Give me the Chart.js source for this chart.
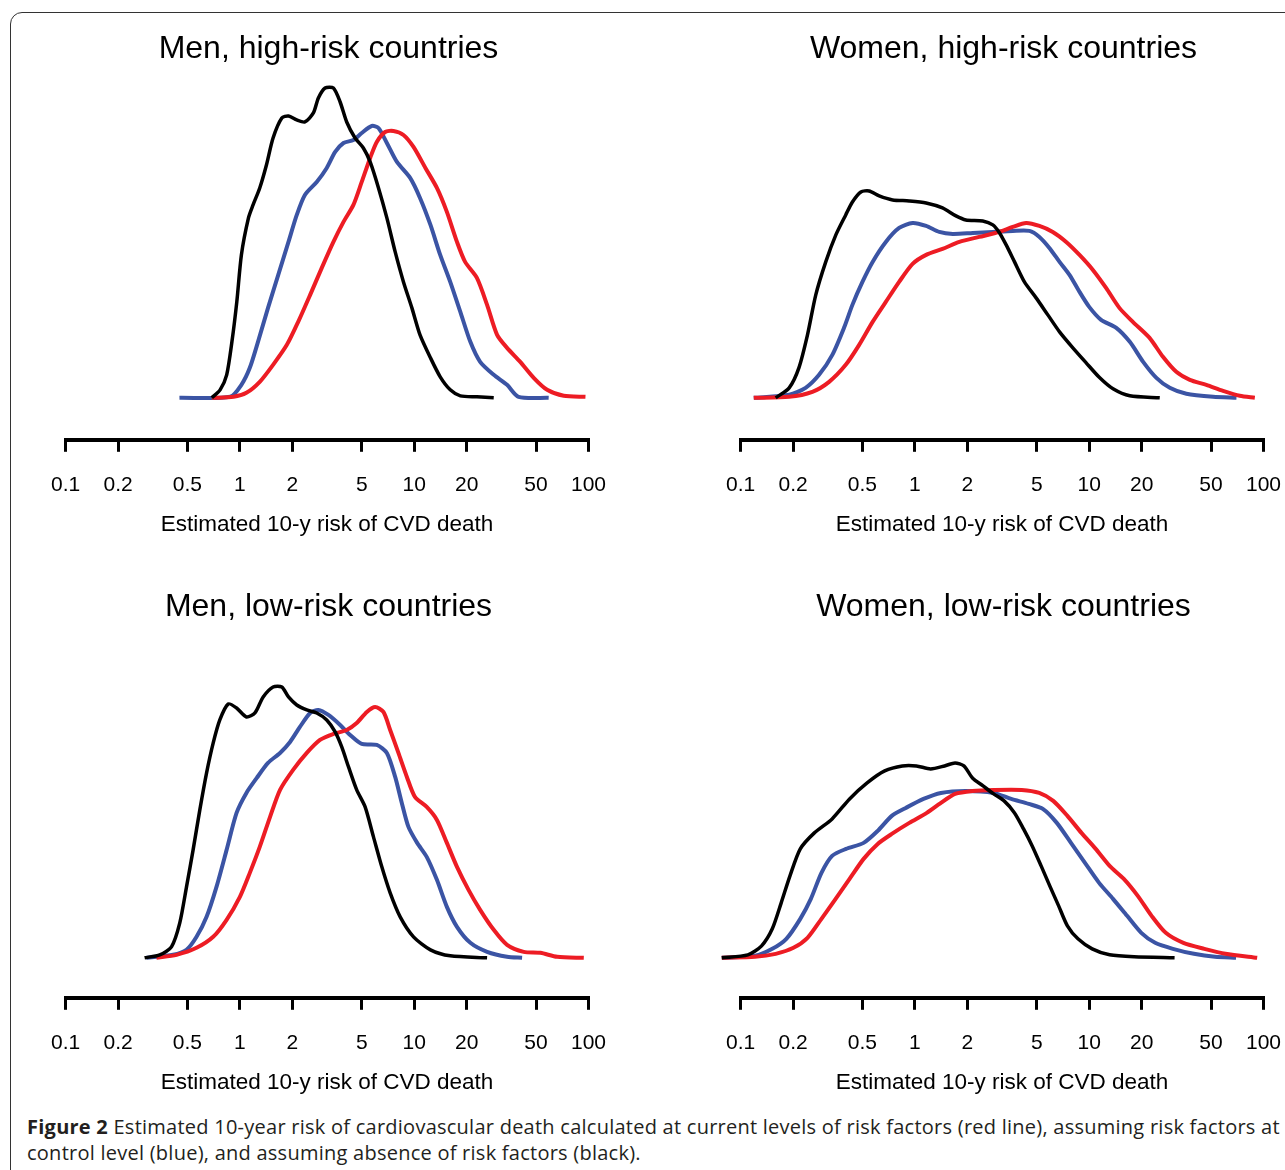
<!DOCTYPE html>
<html>
<head>
<meta charset="utf-8">
<script src="https://cdn.jsdelivr.net/npm/chart.js@4.4.1/dist/chart.umd.min.js"></script>
<style>
  html, body { margin: 0; padding: 0; background: #fff; overflow: hidden; }
  body { width: 1285px; height: 1170px; position: relative; }
  #frame {
    position: absolute; left: 10px; top: 12px; width: 1300px; height: 1200px;
    border: 1.5px solid #333; border-radius: 12px; box-sizing: border-box;
  }
  canvas { position: absolute; }
  #caption {
    position: absolute; left: 27px; top: 1114px;
    font-family: "Open Sans", sans-serif; font-size: 20px; letter-spacing: 0.25px; line-height: 26px;
    color: #231f20; white-space: nowrap;
  }
</style>
</head>
<body>
<div id="frame"></div>
<canvas id="menHigh" width="597" height="527" style="left:30px;top:15px"></canvas>
<canvas id="womenHigh" width="597" height="527" style="left:705px;top:15px"></canvas>
<canvas id="menLow" width="597" height="527" style="left:30px;top:573px"></canvas>
<canvas id="womenLow" width="597" height="527" style="left:705px;top:573px"></canvas>
<div id="caption"><b>Figure 2</b> Estimated 10-year risk of cardiovascular death calculated at current levels of risk factors (red line), assuming risk factors at<br>control level (blue), and assuming absence of risk factors (black).</div>

<script>
const riskTicks = [0.1, 0.2, 0.5, 1, 2, 5, 10, 20, 50, 100];
const axisTitle = "Estimated 10-y risk of CVD death";

// Men, high-risk countries
const menHighBlackX = [0.69, 0.77, 0.84, 0.90, 0.96, 1.02, 1.12, 1.19, 1.30, 1.42, 1.55, 1.74, 1.90, 2.12, 2.36, 2.64, 2.82, 3.08, 3.44, 3.76, 4.10, 4.58, 5.11, 5.59, 6.24, 6.97, 7.78, 8.68, 9.70, 10.8, 12.4, 14.1, 16.1, 18.4, 22.9, 28.6];
const menHighBlackY = [0, 0.08, 0.23, 0.56, 0.96, 1.43, 1.80, 1.93, 2.10, 2.33, 2.60, 2.80, 2.82, 2.78, 2.76, 2.85, 3.00, 3.10, 3.10, 2.96, 2.76, 2.60, 2.50, 2.36, 2.10, 1.80, 1.46, 1.16, 0.90, 0.63, 0.40, 0.21, 0.08, 0.02, 0.01, 0];
const menHighBlueX = [0.45, 0.88, 1.02, 1.14, 1.27, 1.45, 1.66, 1.90, 2.12, 2.36, 2.76, 3.15, 3.52, 3.93, 4.48, 5.00, 5.71, 6.24, 6.97, 7.96, 9.48, 10.8, 12.4, 14.1, 16.1, 18.4, 21.0, 23.9, 28.6, 34.1, 39.7, 59.1];
const menHighBlueY = [0, 0.01, 0.13, 0.30, 0.56, 0.90, 1.23, 1.56, 1.83, 2.03, 2.16, 2.30, 2.46, 2.55, 2.58, 2.65, 2.72, 2.70, 2.55, 2.36, 2.20, 2.00, 1.73, 1.43, 1.16, 0.86, 0.56, 0.36, 0.23, 0.13, 0.01, 0];
const menHighRedX = [0.69, 0.92, 1.09, 1.30, 1.55, 1.86, 2.16, 2.53, 2.95, 3.44, 3.93, 4.48, 5.00, 5.59, 6.10, 6.81, 7.60, 8.68, 9.91, 11.6, 13.5, 15.4, 17.6, 19.6, 22.9, 26.2, 29.9, 34.1, 40.6, 48.5, 57.9, 72.1, 96.1];
const menHighRedY = [0, 0.01, 0.05, 0.16, 0.33, 0.53, 0.76, 1.03, 1.30, 1.56, 1.76, 1.93, 2.16, 2.40, 2.56, 2.66, 2.67, 2.63, 2.51, 2.30, 2.10, 1.86, 1.56, 1.36, 1.20, 0.93, 0.63, 0.50, 0.36, 0.20, 0.08, 0.02, 0.01];

// Women, high-risk countries
const womenHighBlackX = [0.159, 0.190, 0.216, 0.242, 0.270, 0.308, 0.352, 0.401, 0.438, 0.490, 0.546, 0.624, 0.745, 0.927, 1.16, 1.44, 1.72, 1.96, 2.45, 2.80, 3.06, 3.34, 3.73, 4.25, 4.96, 5.79, 6.76, 8.06, 9.61, 11.5, 13.7, 17.1, 25.4];
const womenHighBlackY = [0, 0.10, 0.30, 0.63, 1.03, 1.36, 1.63, 1.83, 1.96, 2.06, 2.07, 2.02, 1.98, 1.97, 1.95, 1.90, 1.82, 1.78, 1.77, 1.73, 1.65, 1.53, 1.36, 1.16, 1.00, 0.83, 0.66, 0.50, 0.35, 0.20, 0.09, 0.02, 0];
const womenHighBlueX = [0.119, 0.190, 0.236, 0.282, 0.336, 0.392, 0.438, 0.500, 0.572, 0.681, 0.812, 0.970, 1.16, 1.38, 1.65, 2.15, 2.80, 3.64, 4.54, 5.18, 5.91, 6.76, 7.71, 8.80, 10.0, 11.7, 14.3, 17.1, 20.4, 24.3, 29.0, 36.1, 51.4, 70.0];
const womenHighBlueY = [0, 0.03, 0.10, 0.23, 0.43, 0.70, 0.93, 1.16, 1.36, 1.56, 1.70, 1.75, 1.72, 1.66, 1.64, 1.65, 1.66, 1.67, 1.67, 1.61, 1.50, 1.36, 1.23, 1.06, 0.91, 0.78, 0.70, 0.56, 0.36, 0.20, 0.10, 0.04, 0.01, 0];
const womenHighRedX = [0.119, 0.190, 0.258, 0.322, 0.401, 0.479, 0.572, 0.681, 0.812, 0.970, 1.16, 1.44, 1.80, 2.34, 3.06, 3.64, 4.35, 5.18, 6.18, 7.38, 8.80, 10.5, 12.5, 14.9, 17.8, 22.2, 26.5, 31.6, 37.8, 47.0, 58.6, 73.1, 89.2];
const womenHighRedY = [0, 0.01, 0.06, 0.16, 0.33, 0.53, 0.76, 0.96, 1.16, 1.34, 1.43, 1.49, 1.56, 1.61, 1.66, 1.71, 1.75, 1.72, 1.66, 1.56, 1.43, 1.28, 1.10, 0.90, 0.76, 0.60, 0.41, 0.26, 0.18, 0.13, 0.07, 0.02, 0];

// Men, low-risk countries
const menLowBlackX = [0.284, 0.347, 0.405, 0.452, 0.494, 0.539, 0.589, 0.644, 0.703, 0.767, 0.857, 0.957, 1.09, 1.22, 1.36, 1.55, 1.74, 1.90, 2.12, 2.42, 2.76, 3.15, 3.52, 3.84, 4.20, 4.68, 5.23, 5.84, 6.52, 7.28, 8.31, 9.91, 12.4, 16.1, 26.2];
const menLowBlackY = [0, 0.03, 0.11, 0.35, 0.71, 1.08, 1.48, 1.85, 2.15, 2.38, 2.54, 2.50, 2.41, 2.45, 2.61, 2.71, 2.71, 2.61, 2.53, 2.48, 2.45, 2.38, 2.26, 2.11, 1.91, 1.68, 1.51, 1.21, 0.91, 0.65, 0.41, 0.21, 0.08, 0.02, 0];
const menLowBlueX = [0.291, 0.414, 0.494, 0.564, 0.644, 0.734, 0.839, 0.957, 1.09, 1.25, 1.45, 1.70, 1.94, 2.21, 2.53, 2.82, 3.22, 3.76, 4.29, 5.00, 6.10, 6.97, 7.78, 8.49, 9.27, 10.4, 11.8, 13.5, 15.4, 17.6, 21.0, 26.2, 34.1, 41.6];
const menLowBlueY = [0, 0.03, 0.08, 0.21, 0.41, 0.71, 1.08, 1.45, 1.65, 1.80, 1.95, 2.05, 2.16, 2.31, 2.45, 2.48, 2.43, 2.33, 2.23, 2.14, 2.13, 2.05, 1.81, 1.55, 1.31, 1.15, 1.01, 0.78, 0.51, 0.31, 0.15, 0.06, 0.01, 0];
const menLowRedX = [0.332, 0.433, 0.564, 0.703, 0.839, 1.00, 1.14, 1.30, 1.49, 1.70, 2.02, 2.42, 2.88, 3.44, 4.10, 4.68, 5.35, 5.97, 6.66, 7.28, 8.12, 9.08, 10.1, 11.8, 13.5, 15.4, 17.6, 20.5, 23.9, 28.6, 34.1, 42.5, 53.0, 66.1, 94.0];
const menLowRedY = [0, 0.03, 0.10, 0.21, 0.38, 0.61, 0.85, 1.11, 1.41, 1.68, 1.88, 2.05, 2.18, 2.24, 2.28, 2.35, 2.46, 2.51, 2.46, 2.28, 2.05, 1.81, 1.61, 1.51, 1.38, 1.15, 0.91, 0.68, 0.48, 0.28, 0.13, 0.06, 0.05, 0.01, 0];

// Women, low-risk countries
const womenLowBlackX = [0.078, 0.110, 0.132, 0.152, 0.171, 0.192, 0.220, 0.265, 0.335, 0.422, 0.532, 0.671, 0.847, 1.02, 1.23, 1.48, 1.70, 1.91, 2.14, 2.46, 2.83, 3.25, 3.73, 4.20, 4.71, 5.30, 5.94, 6.68, 7.50, 8.62, 10.4, 13.1, 18.1, 30.9];
const womenLowBlackY = [0, 0.03, 0.12, 0.29, 0.55, 0.82, 1.09, 1.25, 1.39, 1.59, 1.75, 1.87, 1.92, 1.92, 1.89, 1.92, 1.95, 1.92, 1.80, 1.72, 1.64, 1.57, 1.45, 1.29, 1.12, 0.92, 0.72, 0.52, 0.32, 0.19, 0.09, 0.03, 0.01, 0];
const womenLowBlueX = [0.078, 0.121, 0.152, 0.183, 0.220, 0.253, 0.291, 0.335, 0.403, 0.508, 0.612, 0.737, 0.887, 1.12, 1.41, 1.95, 2.83, 3.57, 4.50, 5.42, 6.52, 7.86, 9.46, 11.4, 13.7, 16.5, 19.9, 23.9, 30.2, 39.9, 52.7, 69.6];
const womenLowBlueY = [0, 0.02, 0.09, 0.19, 0.39, 0.59, 0.85, 1.02, 1.09, 1.15, 1.27, 1.42, 1.50, 1.59, 1.65, 1.67, 1.65, 1.59, 1.54, 1.49, 1.35, 1.15, 0.95, 0.75, 0.59, 0.42, 0.25, 0.15, 0.09, 0.04, 0.01, 0];
const womenLowRedX = [0.078, 0.121, 0.159, 0.201, 0.242, 0.291, 0.351, 0.422, 0.508, 0.612, 0.737, 0.929, 1.17, 1.41, 1.70, 2.14, 2.83, 4.10, 5.17, 6.22, 7.50, 9.03, 10.9, 13.1, 15.8, 19.0, 22.8, 27.5, 34.7, 45.8, 60.5, 92.0];
const womenLowRedY = [0, 0.01, 0.04, 0.10, 0.20, 0.39, 0.59, 0.79, 0.99, 1.14, 1.24, 1.35, 1.45, 1.55, 1.64, 1.67, 1.68, 1.68, 1.65, 1.57, 1.42, 1.25, 1.09, 0.92, 0.79, 0.62, 0.42, 0.25, 0.15, 0.09, 0.04, 0];

const FONT = "'Liberation Sans', Arial, sans-serif";

function pts(xs, ys) {
  return xs.map((x, i) => ({ x: x, y: ys[i] }));
}

function curve(xs, ys, color, width) {
  return {
    data: pts(xs, ys),
    showLine: true,
    borderColor: color,
    borderWidth: width,
    pointRadius: 0,
    pointHoverRadius: 0,
    tension: 0.25,
    clip: false
  };
}

function makePanel(id, title, black, red, blue, yMin, yMax) {
  return new Chart(document.getElementById(id), {
    type: "scatter",
    data: {
      // first dataset is drawn on top
      datasets: [
        curve(black[0], black[1], "#000000", 3.5),
        curve(red[0], red[1], "#ed1c24", 4),
        curve(blue[0], blue[1], "#3b54a4", 4)
      ]
    },
    options: {
      responsive: false,
      animation: false,
      layout: { padding: { left: 24, right: 24, top: 0, bottom: 4 } },
      plugins: {
        legend: { display: false },
        tooltip: { enabled: false },
        title: {
          display: true,
          text: title,
          color: "#000",
          font: { family: FONT, size: 32, weight: "normal" },
          padding: { top: 15, bottom: 11.6 }
        }
      },
      scales: {
        x: {
          type: "logarithmic",
          min: 0.1,
          max: 100,
          afterBuildTicks: (scale) => {
            scale.ticks = riskTicks.map(v => ({ value: v }));
          },
          ticks: {
            autoSkip: false,
            maxRotation: 0,
            padding: 21,
            color: "#000",
            font: { family: FONT, size: 21 },
            callback: (v) => String(v)
          },
          grid: {
            drawOnChartArea: false,
            drawTicks: true,
            tickLength: 12,
            tickWidth: 3,
            lineWidth: 3,
            tickColor: "#000"
          },
          border: { display: true, color: "#000", width: 4 },
          title: {
            display: true,
            text: axisTitle,
            color: "#000",
            font: { family: FONT, size: 22.5 },
            padding: { top: -8, bottom: 0 }
          }
        },
        y: { display: false, min: yMin, max: yMax }
      }
    }
  });
}

makePanel("menHigh", "Men, high-risk countries",
  [menHighBlackX, menHighBlackY], [menHighRedX, menHighRedY], [menHighBlueX, menHighBlueY], -0.42, 3.18);
makePanel("womenHigh", "Women, high-risk countries",
  [womenHighBlackX, womenHighBlackY], [womenHighRedX, womenHighRedY], [womenHighBlueX, womenHighBlueY], -0.42, 3.18);
makePanel("menLow", "Men, low-risk countries",
  [menLowBlackX, menLowBlackY], [menLowRedX, menLowRedY], [menLowBlueX, menLowBlueY], -0.40, 3.20);
makePanel("womenLow", "Women, low-risk countries",
  [womenLowBlackX, womenLowBlackY], [womenLowRedX, womenLowRedY], [womenLowBlueX, womenLowBlueY], -0.40, 3.20);
</script>
</body>
</html>
